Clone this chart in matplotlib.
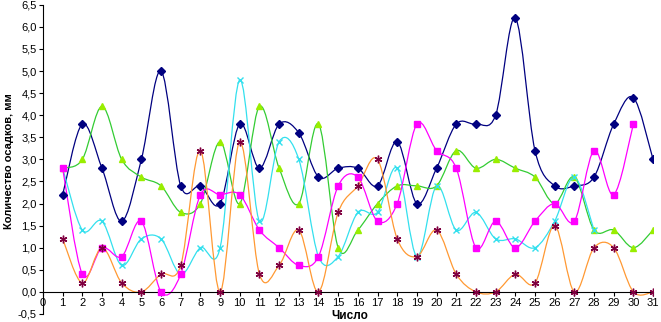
import matplotlib
matplotlib.use("Agg")
import matplotlib.pyplot as plt
from matplotlib.path import Path
from matplotlib.patches import PathPatch

plt.rcParams["font.family"] = ["Liberation Sans", "DejaVu Sans"]

# precipitation per day, mm
navy = [2.2, 3.8, 2.8, 1.6, 3.0, 5.0, 2.4, 2.4, 2.0, 3.8, 2.8, 3.8, 3.6, 2.6, 2.8, 2.8,
        2.4, 3.4, 2.0, 2.8, 3.8, 3.8, 4.0, 6.2, 3.2, 2.4, 2.4, 2.6, 3.8, 4.4, 3.0]
magenta = [2.8, 0.4, 1.0, 0.8, 1.6, 0.0, 0.4, 2.2, 2.2, 2.2, 1.4, 1.0, 0.6, 0.8, 2.4, 2.6,
           1.6, 2.0, 3.8, 3.2, 2.8, 1.0, 1.6, 1.0, 1.6, 2.0, 1.6, 3.2, 2.2, 3.8]
green = [2.8, 3.0, 4.2, 3.0, 2.6, 2.4, 1.8, 2.0, 3.4, 2.0, 4.2, 2.8, 2.0, 3.8, 1.0, 1.4,
         2.0, 2.4, 2.4, 2.4, 3.2, 2.8, 3.0, 2.8, 2.6, 2.0, 2.6, 1.4, 1.4, 1.0, 1.4]
cyan = [2.8, 1.4, 1.6, 0.6, 1.2, 1.2, 0.4, 1.0, 1.0, 4.8, 1.6, 3.4, 3.0, 0.8, 0.8, 1.8,
        1.8, 2.8, 0.8, 2.4, 1.4, 1.8, 1.2, 1.2, 1.0, 1.6, 2.6, 1.4]
orange = [1.2, 0.2, 1.0, 0.2, 0.0, 0.4, 0.6, 3.2, 0.0, 3.4, 0.4, 0.6, 1.4, 0.0, 1.8, 2.4,
          3.0, 1.2, 0.8, 1.4, 0.4, 0.0, 0.0, 0.4, 0.2, 1.5, 0.0, 1.0, 1.0, 0.0, 0.0]

x_ticks = list(range(0, 32))
y_ticks = [-0.5, 0.0, 0.5, 1.0, 1.5, 2.0, 2.5, 3.0, 3.5, 4.0, 4.5, 5.0, 5.5, 6.0, 6.5]
y_ticklabels = [f"{v:.1f}".replace(".", ",") for v in y_ticks]


def smooth_path(ys):
    # Excel-style smoothed line: cubic bezier segments (catmull-rom control points)
    pts = [(i + 1, y) for i, y in enumerate(ys)]
    verts = [pts[0]]
    codes = [Path.MOVETO]
    n = len(pts)
    for i in range(n - 1):
        p0 = pts[max(i - 1, 0)]
        p1 = pts[i]
        p2 = pts[i + 1]
        p3 = pts[min(i + 2, n - 1)]
        c1 = (p1[0] + (p2[0] - p0[0]) / 6, p1[1] + (p2[1] - p0[1]) / 6)
        c2 = (p2[0] - (p3[0] - p1[0]) / 6, p2[1] - (p3[1] - p1[1]) / 6)
        verts += [c1, c2, p2]
        codes += [Path.CURVE4] * 3
    return Path(verts, codes)


series = [
    (navy, "#000080", "D", "#000080", "#000080", 3.8),
    (green, "#33CC33", "^", "#99EE00", "#99EE00", 4.2),
    (cyan, "#33E0EE", "x", "#33E0EE", "#33E0EE", 4.5),
    (magenta, "#FF00FF", "s", "#FF00FF", "#FF00FF", 4.8),
    (orange, "#FF9933", (6, 2, 0), "#800040", "#800040", 5.5),
]

fig = plt.figure(figsize=(6.61, 3.22), dpi=100)
ax = fig.add_axes([0.065, 0.025, 0.923, 0.96])

for ys, lc, mk, mfc, mec, ms in series:
    ax.add_patch(PathPatch(smooth_path(ys), fill=False, edgecolor=lc, lw=0.9, zorder=2))
    ax.plot(range(1, len(ys) + 1), ys, linestyle="none", marker=mk, markersize=ms,
            markerfacecolor=mfc, markeredgecolor=mec, markeredgewidth=1.0, zorder=3)

ax.set_xlim(0, 31)
ax.set_ylim(-0.5, 6.5)
ax.set_xticks(x_ticks)
ax.set_xticklabels([str(v) for v in x_ticks])
ax.set_yticks(y_ticks)
ax.set_yticklabels(y_ticklabels)

ax.spines["top"].set_visible(False)
ax.spines["right"].set_visible(False)
ax.spines["bottom"].set_position(("data", 0))
for s in ("left", "bottom"):
    ax.spines[s].set_linewidth(0.8)
    ax.spines[s].set_color("#000000")
ax.tick_params(axis="both", direction="out", length=3, width=0.8, labelsize=8,
               colors="#000000", pad=1.5)
ax.patch.set_visible(False)

fig.text(350 / 661, 1 - 316 / 322, "Число", fontsize=8.5, fontweight="bold",
         ha="center", va="center")
fig.text(9 / 661, 0.5, "Количество осадков, мм", fontsize=8, fontweight="bold",
         rotation=90, ha="center", va="center")

fig.savefig("out.png", dpi=100)
